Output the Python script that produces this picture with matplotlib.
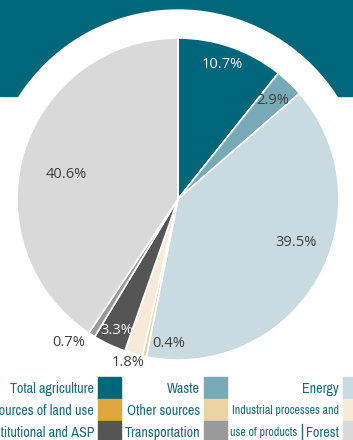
import matplotlib
matplotlib.use("Agg")
import matplotlib.pyplot as plt
import numpy as np
from matplotlib.patches import Rectangle, Circle
from matplotlib import font_manager

# pie data, clockwise from 12 o'clock
slice_names = ["Total agriculture", "Waste", "Energy", "Other sources",
               "Industrial processes and use of products", "Institutional and ASP",
               "Transportation", "Forest"]
slice_values = [10.7, 2.9, 39.5, 0.4, 1.8, 3.3, 0.7, 40.6]
slice_colors = ["#00667a", "#78a9b7", "#c9dae0", "#edd3a3",
                "#f7ead8", "#555555", "#9a9a9a", "#d9d9d9"]
label_colors = ["white", "#404040", "#404040", "#404040",
                "#404040", "white", "#404040", "#404040"]
label_r = [0.88, 0.85, 0.78, 0.90, 1.06, 0.90, 1.12, 0.71]
label_shift = [-1, 0, -10, -8, 1, 0, 5, -4]   # degrees

# legend, row by row
legend_labels = ["Total agriculture", "Waste", "Energy",
                 "Sources of land use", "Other sources", "Industrial processes and",
                 "Institutional and ASP", "Transportation", "use of products"]
legend_colors = ["#00667a", "#78a9b7", "#c9dae0",
                 "#dea63c", "#edd3a3", "#f7ead8",
                 "#555555", "#9a9a9a", "#d9d9d9"]

# look for a narrow face, the legend uses a condensed type
narrow = None
for f in font_manager.fontManager.ttflist:
    nm = f.name.lower()
    if "narrow" in nm or "condensed" in nm:
        narrow = dict(family=f.name)
        break
if narrow is None:
    for f in font_manager.fontManager.ttflist:
        if f.name == "DejaVu Sans" and "condensed" in str(f.stretch):
            narrow = dict(family="DejaVu Sans", stretch="condensed")
            break
if narrow is None:
    narrow = dict(family="DejaVu Sans")

W, H = 353, 440
fig = plt.figure(figsize=(W / 100, H / 100), dpi=100)
ax = fig.add_axes([0, 0, 1, 1])
ax.set_xlim(0, W)
ax.set_ylim(0, H)
ax.set_aspect("equal")
ax.axis("off")

def py(y):
    return H - y

teal = "#00667a"
txt_teal = "#1b6b7c"
cx, cy, r = 178, py(199), 161

# header band with white halo around the pie
ax.add_patch(Rectangle((0, py(96)), W, 96, color=teal, zorder=0))
ax.add_patch(Circle((cx, cy), 189, color="white", zorder=1))

wedges, _ = ax.pie(slice_values, colors=slice_colors, startangle=90, counterclock=False,
                   center=(cx, cy), radius=r,
                   wedgeprops=dict(edgecolor="white", linewidth=1.2))
for w in wedges:
    w.set_zorder(2)

ax.set_xlim(0, W)
ax.set_ylim(0, H)

cum = np.cumsum([0] + slice_values[:-1])
for i, v in enumerate(slice_values):
    mid = (cum[i] + v / 2) * 3.6 + label_shift[i]
    a = np.deg2rad(mid)
    x = cx + label_r[i] * r * np.sin(a)
    y = cy + label_r[i] * r * np.cos(a)
    ax.text(x, y, f"{v}%", ha="center", va="center", fontsize=10.5,
            family=["Open Sans", "DejaVu Sans"], color=label_colors[i], zorder=5)

renderer = fig.canvas.get_renderer()

def fit_size(s, target, base=10):
    t = ax.text(0, 0, s, fontsize=base, **narrow)
    w = t.get_window_extent(renderer).width
    t.remove()
    return base * target / w

big = min(fit_size("Total agriculture", 84), 11)
small = min(fit_size("Industrial processes and", 107), 9)

# legend grid
col_sq = [98, 204, 343]
row_top = [377, 399, 421]
sq_w, sq_h = 23, 22
for k, (lab, col) in enumerate(zip(legend_labels, legend_colors)):
    row, c = divmod(k, 3)
    x0 = col_sq[c]
    ax.add_patch(Rectangle((x0, py(row_top[row] + sq_h)), sq_w, sq_h, color=col,
                           zorder=3, clip_on=False))
    yc = py(row_top[row] + sq_h / 2 + 1)
    if c == 2 and row == 2:
        ax.text(x0 - 4, yc, "Forest", ha="right", va="center",
                fontsize=big, color=txt_teal, **narrow)
        ax.plot([x0 - 41, x0 - 41], [py(row_top[row] + 3), py(row_top[row] + 19)],
                color=txt_teal, lw=1)
        ax.text(x0 - 46, yc, lab, ha="right", va="center",
                fontsize=small, color=txt_teal, **narrow)
    else:
        fs = small if (c == 2 and row == 1) else big
        ax.text(x0 - 4, yc, lab, ha="right", va="center",
                fontsize=fs, color=txt_teal, **narrow)

fig.savefig("out.png", dpi=100)
